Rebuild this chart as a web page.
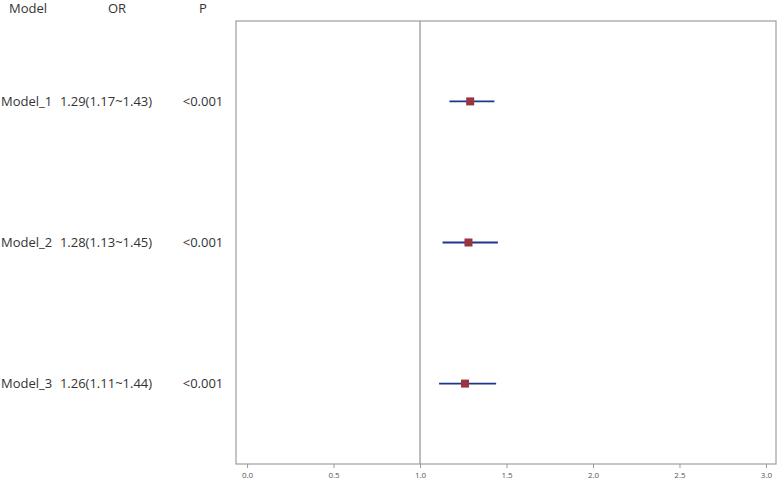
<!DOCTYPE html>
<html>
<head>
<meta charset="utf-8">
<script src="https://cdn.jsdelivr.net/npm/d3@7"></script>
<style>
  body { margin: 0; background: #fff; }
  text { font-family: 'Open Sans', 'Noto Sans', sans-serif; }
</style>
</head>
<body>
<div id="chart"></div>
<script>
// data
const models = ['Model_1', 'Model_2', 'Model_3']
const orValues = [1.29, 1.28, 1.26]
const lowerCI = [1.17, 1.13, 1.11]
const upperCI = [1.43, 1.45, 1.44]
const orLabels = ['1.29(1.17~1.43)', '1.28(1.13~1.45)', '1.26(1.11~1.44)']
const pLabels = ['<0.001', '<0.001', '<0.001']
const xTicks = [0, 0.5, 1, 1.5, 2, 2.5, 3]

const width = 778
const height = 481
const box = { left: 236, right: 776, top: 21, bottom: 464 }

const svg = d3
  .select('#chart')
  .append('svg')
  .attr('width', width)
  .attr('height', height)

const x = d3
  .scaleLinear()
  .domain([-0.064, 3.058])
  .range([box.left, box.right])

const y = d3
  .scalePoint()
  .domain(models)
  .range([box.top, box.bottom])
  .padding(0.57)

// panel border
svg
  .append('rect')
  .attr('x', box.left)
  .attr('y', box.top)
  .attr('width', box.right - box.left)
  .attr('height', box.bottom - box.top)
  .attr('fill', 'none')
  .attr('stroke', '#a6a6a6')
  .attr('stroke-width', 1.3)

// reference line at OR = 1
svg
  .append('line')
  .attr('x1', x(1))
  .attr('x2', x(1))
  .attr('y1', box.top)
  .attr('y2', box.bottom)
  .attr('stroke', '#999')
  .attr('stroke-width', 1.3)

// x axis
const xAxis = d3
  .axisBottom(x)
  .tickValues(xTicks)
  .tickFormat(d3.format('.1f'))
  .tickSize(4)
  .tickSizeOuter(0)

const axisG = svg
  .append('g')
  .attr('class', 'axis x-axis')
  .attr('transform', 'translate(0,' + box.bottom + ')')
  .call(xAxis)

axisG.select('.domain').remove()
axisG.selectAll('line').attr('stroke', '#999')
axisG
  .selectAll('text')
  .attr('fill', '#555')
  .attr('font-size', 8)
  .attr('dy', '0.9em')

// CI lines
svg
  .selectAll('.ci')
  .data(models)
  .enter()
  .append('line')
  .attr('class', 'ci')
  .attr('x1', (d, i) => x(lowerCI[i]))
  .attr('x2', (d, i) => x(upperCI[i]))
  .attr('y1', d => y(d))
  .attr('y2', d => y(d))
  .attr('stroke', '#1f3590')
  .attr('stroke-width', 1.8)

// OR squares
const s = 8
svg
  .selectAll('.pt')
  .data(models)
  .enter()
  .append('rect')
  .attr('class', 'pt')
  .attr('x', (d, i) => x(orValues[i]) - s / 2)
  .attr('y', d => y(d) - s / 2)
  .attr('width', s)
  .attr('height', s)
  .attr('fill', '#9b3340')

// table text
const textColor = '#333'
const headers = [
  { t: 'Model', x: 9, anchor: 'start' },
  { t: 'OR', x: 117, anchor: 'middle' },
  { t: 'P', x: 203, anchor: 'middle' }
]
svg
  .selectAll('.hdr')
  .data(headers)
  .enter()
  .append('text')
  .attr('class', 'hdr')
  .attr('x', d => d.x)
  .attr('y', 8)
  .attr('dy', '0.35em')
  .attr('text-anchor', d => d.anchor)
  .attr('font-size', 13)
  .attr('fill', textColor)
  .text(d => d.t)

const rows = svg
  .selectAll('.row')
  .data(models)
  .enter()
  .append('g')
  .attr('class', 'row')
  .attr('transform', d => 'translate(0,' + y(d) + ')')

rows
  .append('text')
  .attr('x', 1)
  .attr('dy', '0.35em')
  .attr('font-size', 13)
  .attr('fill', textColor)
  .text(d => d)

rows
  .append('text')
  .attr('x', 106)
  .attr('dy', '0.35em')
  .attr('text-anchor', 'middle')
  .attr('font-size', 13)
  .attr('fill', textColor)
  .text((d, i) => orLabels[i])

rows
  .append('text')
  .attr('x', 203)
  .attr('dy', '0.35em')
  .attr('text-anchor', 'middle')
  .attr('font-size', 13)
  .attr('fill', textColor)
  .text((d, i) => pLabels[i])
</script>
</body>
</html>
